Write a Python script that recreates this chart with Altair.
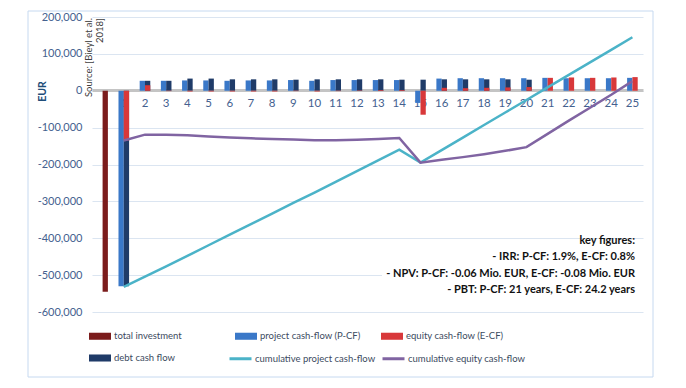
import altair as alt
import pandas as pd

# ---------------- data ----------------
years = list(range(1, 26))
project_cf = [-530000, 27000, 27000, 28000, 28000, 27000, 28000, 28000, 29000, 27000, 29000, 29000, 29000,
              29000, -33000, 33000, 34000, 34000, 34000, 34000, 35000, 34000, 34000, 34000, 35000]
debt_cf = [-530000, 27000, 27000, 33000, 33000, 31000, 31000, 31000, 30000, 31000, 31000, 31000, 31000,
           30000, 30000, 31000, 31000, 31000, 31000, 30000, 0, 0, 0, 0, 0]
equity_cf = [-135000, 15000, -1000, -2000, -2000, -2000, -2000, -2000, -1000, -2000, -1000, 1000, 2000,
             2000, -65000, 8000, 7000, 8000, 9000, 10000, 35000, 36000, 35000, 36000, 37000]
total_investment_year = 0
total_investment = -545000
cum_project = [-532000, -504000, -476000, -448000, -419000, -390000, -362000, -333000, -304000, -276000,
               -247000, -218000, -189000, -160000, -195000, -161000, -127000, -93000, -59000, -25000,
               9000, 43000, 77000, 111000, 145000]
cum_equity = [-135000, -119000, -119000, -121000, -124000, -127000, -129000, -131000, -132000, -134000,
              -134000, -133000, -131000, -128000, -195000, -187000, -180000, -172000, -163000, -153000,
              -117000, -81000, -46000, -11000, 26000]

bar_series = ["total investment", "project cash-flow (P-CF)", "equity cash-flow (E-CF)", "debt cash flow"]
bar_colors = ["#7b1c1c", "#3a78c8", "#d8383a", "#1f3b68"]
line_series = ["cumulative project cash-flow", "cumulative equity cash-flow"]
line_colors = ["#4bb3c8", "#8064a2"]

key_figures = ["key figures:",
               "- IRR: P-CF: 1.9%, E-CF: 0.8%",
               "- NPV: P-CF: -0.06 Mio. EUR, E-CF: -0.08 Mio. EUR",
               "- PBT: P-CF: 21 years, E-CF: 24.2 years"]

# ---------------- tables ----------------
rows = [{"year": total_investment_year, "series": bar_series[0], "slot": "b", "value": total_investment}]
for y, p in zip(years, project_cf):
    rows.append({"year": y, "series": bar_series[1], "slot": "a", "value": p})
for y, d in zip(years, debt_cf):
    rows.append({"year": y, "series": bar_series[3], "slot": "b", "value": d})
for y, e in zip(years, equity_cf):   # drawn last -> in front of the debt bars
    rows.append({"year": y, "series": bar_series[2], "slot": "b", "value": e})
bar_df = pd.DataFrame(rows)

line_df = pd.DataFrame(
    [{"year": y, "series": line_series[0], "value": v} for y, v in zip(years, cum_project)]
    + [{"year": y, "series": line_series[1], "value": v} for y, v in zip(years, cum_equity)]
)

W, H = 551, 295
LABEL_COLOR = "#44618f"
FONT = "Lato"

x_enc = alt.X("year:O",
              scale=alt.Scale(domain=list(range(0, 26)), paddingInner=0.5, paddingOuter=0.25),
              axis=alt.Axis(title=None, orient="bottom", offset=-222, ticks=False,
                            domainColor="#c4c4c4", domainWidth=3, labelAngle=0,
                            labelExpr="datum.value == 0 ? '' : datum.label",
                            labelColor=LABEL_COLOR, labelFont=FONT, labelFontSize=11.5,
                            labelPadding=7, grid=False))
y_scale = alt.Scale(domain=[-600000, 200000], nice=False, zero=False)
y_axis = alt.Axis(title="EUR", values=list(range(-600000, 200001, 100000)),
                  labelExpr="replace(format(datum.value, ',.0f'), '\u2212', '-')",
                  domain=False, ticks=False, grid=True, gridColor="#dbe5f1",
                  labelColor=LABEL_COLOR, labelFont=FONT, labelFontSize=11,
                  labelPadding=10, titleFont=FONT, titleFontSize=10.5, titleFontWeight="bold",
                  titleColor="#1f4e79", titleAngle=270, titleX=-50, titleY=74,
                  titleAlign="center", titleBaseline="middle")

fill_enc = alt.Fill("series:N",
                    scale=alt.Scale(domain=bar_series, range=bar_colors),
                    legend=alt.Legend(title=None, orient="none", direction="horizontal",
                                      values=bar_series, legendX=-3, legendY=308, columns=3,
                                      gridAlign="all", columnPadding=20, rowPadding=6,
                                      symbolType="M-1,-0.32H1V0.32H-1Z", symbolSize=484,
                                      symbolStrokeWidth=0, labelOffset=3,
                                      labelFont=FONT, labelFontSize=9.5, labelColor="#3b4a60"))
stroke_enc = alt.Stroke("series:N",
                        scale=alt.Scale(domain=line_series, range=line_colors),
                        legend=alt.Legend(title=None, orient="none", direction="horizontal",
                                          values=line_series, legendX=136, legendY=329, columns=2,
                                          gridAlign="all", columnPadding=0,
                                          symbolType="stroke", symbolSize=484, symbolStrokeWidth=3,
                                          labelOffset=2,
                                          labelFont=FONT, labelFontSize=9.5, labelColor="#3b4a60"))

offset_enc = alt.XOffset("slot:N", scale=alt.Scale(domain=["a", "b"], paddingInner=0, paddingOuter=0))

one = pd.DataFrame({"k": [0]})

border = alt.Chart(one).mark_rect(fill="transparent", stroke="#c6d9f0", strokeWidth=1).encode(
    x=alt.value(-64), x2=alt.value(561), y=alt.value(-6), y2=alt.value(360))

bars = alt.Chart(bar_df).mark_bar(strokeWidth=0).encode(
    x=x_enc, xOffset=offset_enc,
    y=alt.Y("value:Q", scale=y_scale, axis=y_axis, stack=None),
    fill=fill_enc)
lines = alt.Chart(line_df).mark_line(strokeWidth=2.5).encode(
    x=x_enc, y=alt.Y("value:Q", scale=y_scale, axis=y_axis), stroke=stroke_enc)

white_box = alt.Chart(one).mark_rect(fill="white").encode(
    x=alt.value(290), x2=alt.value(552), y=alt.value(228), y2=alt.value(281))

key_text = alt.Chart(one).mark_text(text=key_figures, lineBreak="\n", align="right", baseline="top",
                                    font=FONT, fontSize=11, fontWeight="bold", lineHeight=16.4,
                                    color="#111111").encode(x=alt.value(543), y=alt.value(218))

src1 = alt.Chart(one).mark_text(text="Source: [Bieyl et al.", angle=270, align="right", baseline="middle",
                                font=FONT, fontSize=9.5, color="#404040").encode(
    x=alt.value(-3), y=alt.value(1))
src2 = alt.Chart(one).mark_text(text="2018]", angle=270, align="right", baseline="middle",
                                font=FONT, fontSize=9.5, color="#404040").encode(
    x=alt.value(8), y=alt.value(1))

chart = alt.layer(border, bars, white_box, lines, key_text, src1, src2).properties(
    width=W, height=H,
    autosize=alt.AutoSizeParams(type="none"),
    padding={"left": 84, "top": 9, "right": 35, "bottom": 66},
).configure_view(stroke=None).resolve_scale(fill="shared", stroke="shared")

chart.save("out.html", embed_options={"renderer": "svg", "actions": False})
